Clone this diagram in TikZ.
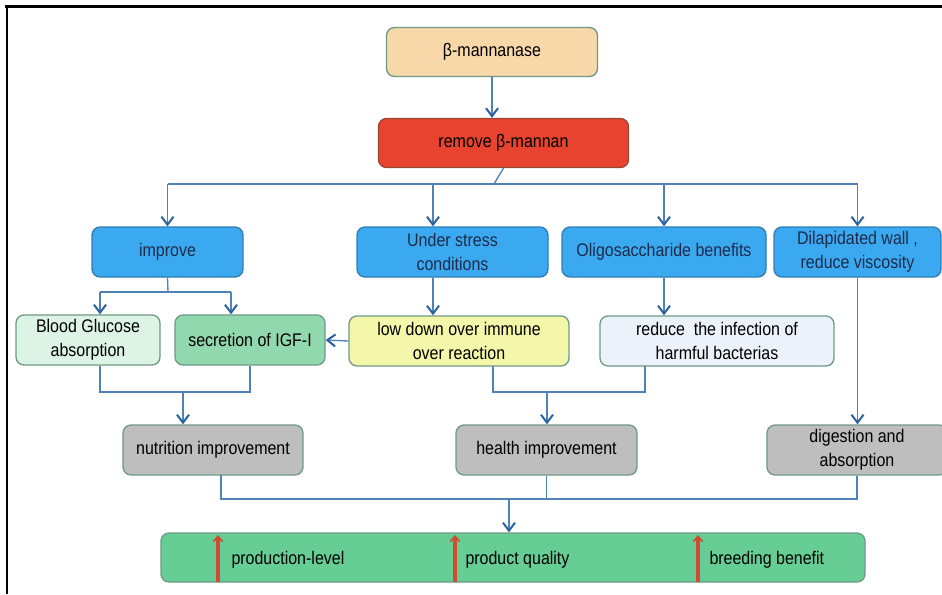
\documentclass[tikz,border=0pt]{standalone}
\usepackage{fontspec}
\setmainfont[FakeStretch=0.875]{Liberation Sans}
\usetikzlibrary{arrows.meta}

\definecolor{linkblue}{HTML}{4F82B8}
\definecolor{tipblue}{HTML}{2A62A0}
\definecolor{edgegreen}{HTML}{6F9A86}
\definecolor{mannfill}{HTML}{F8D8A8}
\definecolor{remvfill}{HTML}{E8432F}
\definecolor{remvedge}{HTML}{9A4636}
\definecolor{bluefill}{HTML}{3BA9F0}
\definecolor{blueedge}{HTML}{2F7DB6}
\definecolor{bloodfill}{HTML}{DDF3E6}
\definecolor{igffill}{HTML}{92D8AF}
\definecolor{lowfill}{HTML}{F4F7A9}
\definecolor{redufill}{HTML}{EBF2FA}
\definecolor{grayfill}{HTML}{BEBEBE}
\definecolor{botfill}{HTML}{66CD94}
\definecolor{uparrow}{HTML}{D24A30}
\definecolor{navytext}{HTML}{1C2B4A}

\tikzset{every picture/.style={line width=0.75pt}}
\tikzset{
  box/.style={draw=edgegreen, rounded corners=6pt, line width=1pt, align=center,
    inner sep=0pt, font=\fontsize{13.7}{18}\selectfont},
  boxsize/.style 2 args={minimum width=#1*0.75pt, minimum height=#2*0.75pt},
  bluebox/.style={box, fill=bluefill, draw=blueedge, text=navytext},
  graybox/.style={box, fill=grayfill},
  link/.style={draw=linkblue, line width=1pt},
  arr/.style={link, -{Straight Barb[length=6pt,width=9pt,line width=1.5pt,color=tipblue]}},
  uparr/.style={draw=uparrow, line width=2.3pt, -{Straight Barb[length=4pt,width=7pt,line width=1.2pt]}},
  gainlabel/.style={anchor=west, inner sep=0pt, font=\fontsize{13.7}{16}\selectfont}
}

\begin{document}
\begin{tikzpicture}[x=0.75pt,y=0.75pt,yscale=-1,xscale=1]
    \useasboundingbox (0,0) rectangle (942,594);
    \clip (0,0) rectangle (942,594);

    %Frame lines
    \draw [line width=1.8pt] (5,6.3) -- (942,6.3) ;
    \draw [line width=1.8pt] (7.2,5) -- (7.2,594) ;

    %Top boxes
    \node [box, fill=mannfill, boxsize={211}{49}] (mann) at (492,52) {β-mannanase};
    \node [box, fill=remvfill, draw=remvedge, boxsize={250}{49}] (remv) at (503.5,143) {remove β-mannan};

    %Second row
    \node [bluebox, boxsize={151}{50}] (impr) at (167.5,252) {improve};
    \node [bluebox, boxsize={191}{50}] (strs) at (452.5,252) {Under stress\\conditions};
    \node [bluebox, boxsize={204}{50}] (olig) at (664,252) {Oligosaccharide benefits};
    \node [bluebox, boxsize={167}{50}] (dila) at (857.5,252) {Dilapidated wall ,\\reduce viscosity};

    %Third row
    \node [box, fill=bloodfill, boxsize={144}{50}] (blood) at (88,340) {Blood Glucose\\absorption};
    \node [box, fill=igffill, boxsize={150}{50}] (igf) at (250,340) {secretion of IGF-I};
    \node [box, fill=lowfill, boxsize={220}{50}] (lowd) at (459,341) {low down over immune\\over reaction};
    \node [box, fill=redufill, boxsize={234}{50}] (redu) at (717,341) {reduce\ \ the infection of\\harmful bacterias};

    %Fourth row
    \node [graybox, boxsize={180}{50}] (nutr) at (213,450) {nutrition improvement};
    \node [graybox, boxsize={181}{50}] (hlth) at (546.5,450) {health improvement};
    \node [graybox, boxsize={180}{50}] (dige) at (857,450) {digestion and\\absorption};

    %Result bar
    \node [box, fill=botfill, boxsize={704}{49}] (gain) at (513,557.5) {};

    %Join points
    \coordinate (split) at (494,184);
    \coordinate (impsplit) at (168,292);
    \coordinate (strcol) at (433,0);
    \coordinate (bloodcol) at (100,0);
    \coordinate (igfcol) at (231,0);
    \coordinate (nutjoin) at (183,392);
    \coordinate (hltjoin) at (547,392);
    \coordinate (endjoin) at (509,499);

    %Top links
    \draw [arr] (mann.south) -- (mann.south |- remv.north) ;
    \draw [link] (remv.south) -- (split) ;
    \draw [link] (impr.north |- split) -- (dila.north |- split) ;
    \draw [arr] (impr.north |- split) -- (impr.north) ;
    \draw [arr] (strcol |- split) -- (strcol |- strs.north) ;
    \draw [arr] (olig.north |- split) -- (olig.north) ;
    \draw [arr] (dila.north |- split) -- (dila.north) ;

    %Second row links
    \draw [link] (impr.south) -- (impsplit) ;
    \draw [link] (bloodcol |- impsplit) -- (igfcol |- impsplit) ;
    \draw [arr] (bloodcol |- impsplit) -- (bloodcol |- blood.north) ;
    \draw [arr] (igfcol |- impsplit) -- (igfcol |- igf.north) ;
    \draw [arr] (strcol |- strs.south) -- (strcol |- lowd.north) ;
    \draw [arr] (olig.south) -- (olig.south |- redu.north) ;
    \draw [arr] (lowd.west) -- (igf.east) ;

    %Third row links
    \draw [link] (bloodcol |- blood.south) |- (nutjoin) -| (igf.south) ;
    \draw [arr] (nutjoin) -- (nutjoin |- nutr.north) ;
    \draw [link] (493,366) |- (hltjoin) -| (645,366) ;
    \draw [arr] (hltjoin) -- (hltjoin |- hlth.north) ;
    \draw [arr] (dila.south) -- (dila.south |- dige.north) ;

    %Bottom links
    \draw [link] (221,475) |- (endjoin) -| (dige.south) ;
    \draw [link] (hlth.south) -- (hlth.south |- endjoin) ;
    \draw [arr] (endjoin) -- (endjoin |- gain.north) ;

    %Gain arrows and labels
    \draw [uparr] (218,582) -- (218,535) ;
    \draw [uparr] (455,582) -- (455,535) ;
    \draw [uparr] (698,582) -- (698,535) ;
    \node [gainlabel] (prod) at (231,560) {production-level};
    \node [gainlabel] (qual) at (465,560) {product quality};
    \node [gainlabel] (breed) at (709,560) {breeding benefit};

\end{tikzpicture}
\end{document}
